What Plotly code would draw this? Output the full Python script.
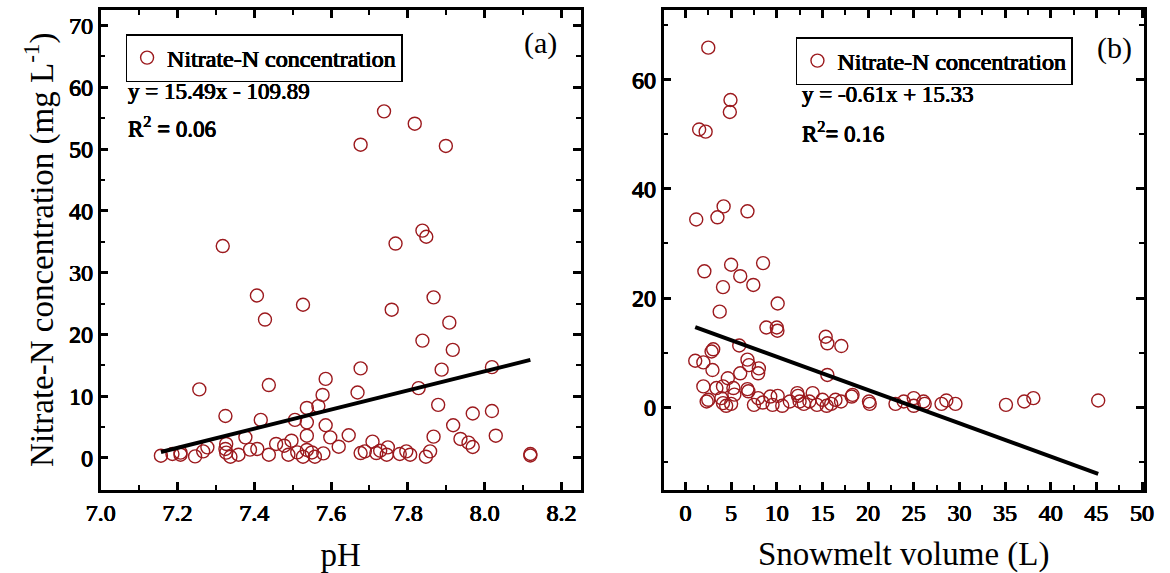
import plotly.graph_objects as go

# Panel (a): pH vs nitrate-N
ph = [7.157, 7.187, 7.208, 7.208, 7.246, 7.257, 7.267, 7.278, 7.318, 7.325,
      7.327, 7.325, 7.327, 7.338, 7.359, 7.377, 7.389, 7.407, 7.408, 7.417,
      7.428, 7.438, 7.438, 7.457, 7.478, 7.489, 7.497, 7.506, 7.512, 7.527,
      7.527, 7.537, 7.537, 7.537, 7.537, 7.550, 7.558, 7.567, 7.578, 7.586,
      7.586, 7.580, 7.598, 7.620, 7.646, 7.669, 7.677, 7.677, 7.677, 7.688,
      7.708, 7.718, 7.728, 7.738, 7.745, 7.748, 7.758, 7.768, 7.779, 7.796,
      7.806, 7.818, 7.828, 7.838, 7.838, 7.847, 7.848, 7.858, 7.867, 7.867,
      7.879, 7.888, 7.899, 7.908, 7.917, 7.918, 7.937, 7.958, 7.969, 7.969,
      8.019, 8.019, 8.029, 8.119, 8.119]
nitrate_a = [0.37, 0.65, 0.53, 0.86, 0.26, 11.1, 1.07, 1.72, 34.3, 6.8,
             2.27, 1.46, 0.86, 0.20, 0.53, 3.34, 1.35, 26.3, 1.46, 6.16,
             22.4, 11.8, 0.53, 2.27, 1.99, 0.53, 2.8, 6.16, 0.91, 0.21,
             24.8, 8.1, 5.77, 3.61, 1.3, 0.9, 0.21, 8.4, 10.2, 12.8,
             5.3, 0.75, 3.34, 1.83, 3.68, 10.6, 50.7, 14.5, 0.8, 1.07,
             2.64, 0.8, 1.18, 56.1, 0.53, 1.72, 24.0, 34.7, 0.65, 1.07,
             0.53, 54.1, 11.3, 36.8, 19.0, 0.21, 35.8, 1.07, 26.0, 3.45,
             8.6, 14.3, 50.5, 21.9, 17.5, 5.3, 3.08, 2.48, 7.2, 1.78,
             14.7, 7.6, 3.61, 0.65, 0.4]

# Panel (b): snowmelt volume vs nitrate-N
snow = [2.50, 4.93, 4.86, 1.50, 2.21, 1.18, 3.50, 4.18, 6.79, 2.07,
        5.00, 6.00, 8.50, 4.11, 7.43, 10.1, 3.75, 8.86, 10.0, 10.07,
        15.36, 15.54, 17.07, 5.89, 3.04, 2.86, 1.07, 1.96, 6.79, 6.96,
        8.04, 7.96, 6.00, 2.96, 4.64, 15.54, 1.96, 3.39, 4.11, 5.25,
        5.36, 6.79, 6.89, 2.50, 2.32, 3.93, 4.11, 4.46, 5.00, 7.50,
        7.96, 8.46, 9.29, 9.54, 10.1, 10.6, 11.43, 12.25, 12.32, 12.5,
        12.96, 13.57, 13.93, 14.4, 15.0, 15.46, 15.96, 16.43, 17.04, 18.2,
        18.3, 20.1, 20.18, 23.0, 23.9, 25.0, 25.0, 26.07, 26.2, 28.04,
        28.57, 29.57, 35.1, 37.1, 38.1, 45.2]
nitrate_b = [65.9, 56.3, 54.1, 50.9, 50.5, 34.4, 34.8, 36.8, 35.9, 24.9,
             26.1, 24.0, 26.4, 22.0, 22.4, 19.0, 17.5, 14.6, 14.6, 14.0,
             12.9, 11.7, 11.2, 11.3, 10.6, 10.2, 8.5, 8.2, 8.7, 7.7,
             7.1, 6.2, 6.2, 6.8, 5.3, 5.9, 3.8, 3.5, 3.8, 3.5,
             2.3, 3.3, 2.9, 1.34, 1.03, 1.65, 0.73, 0.24, 0.6, 0.42,
             1.65, 0.84, 1.94, 0.42, 2.07, 0.24, 1.03, 2.56, 2.07, 1.03,
             0.6, 1.03, 2.56, 0.42, 1.34, 0.24, 0.6, 1.34, 1.03, 1.94,
             2.25, 1.03, 0.6, 0.6, 1.03, 1.65, 0.24, 1.03, 0.6, 0.6,
             1.22, 0.6, 0.42, 1.03, 1.65, 1.22]

# Linear fits as stated in the annotations
slope_a, intercept_a = 15.49, -109.89
slope_b, intercept_b = -0.61, 15.33
eq_a = "y = 15.49x - 109.89"
eq_b = "y = -0.61x + 15.33"
r2_a = "0.06"
r2_b = "0.16"

series_name = "Nitrate-N concentration"
MARKER_COLOR = "#9c1a1e"
SERIF = "Liberation Serif"
# heavier strokes drawn as a thin outline around the serif glyphs
HEAVY = "0.45px 0 0 black, -0.45px 0 0 black, 0 0.35px 0 black, 0 -0.35px 0 black"

fit_ax = [min(ph), max(ph)]
fit_ay = [slope_a * v + intercept_a for v in fit_ax]
fit_bx = [min(snow), max(snow)]
fit_by = [slope_b * v + intercept_b for v in fit_bx]

W, H = 1170, 573
fig = go.Figure()

marker_style = dict(symbol="circle-open", size=13, color=MARKER_COLOR,
                    line=dict(width=1.4, color=MARKER_COLOR))

fig.add_trace(go.Scatter(x=ph, y=nitrate_a, mode="markers", name=series_name,
                         marker=marker_style, xaxis="x", yaxis="y",
                         legend="legend", showlegend=True))
fig.add_trace(go.Scatter(x=fit_ax, y=fit_ay, mode="lines",
                         line=dict(color="black", width=4),
                         xaxis="x", yaxis="y", showlegend=False))
fig.add_trace(go.Scatter(x=snow, y=nitrate_b, mode="markers", name=series_name,
                         marker=marker_style, xaxis="x2", yaxis="y2",
                         legend="legend2", showlegend=True))
fig.add_trace(go.Scatter(x=fit_bx, y=fit_by, mode="lines",
                         line=dict(color="black", width=4),
                         xaxis="x2", yaxis="y2", showlegend=False))

tick_font = dict(family=SERIF, size=24, color="black", shadow=HEAVY)
title_font = dict(family=SERIF, size=33, color="black")
legend_font = dict(family=SERIF, size=24, color="black", shadow=HEAVY)

def axis_common():
    return dict(showline=True, linewidth=2.5, linecolor="black", mirror="allticks",
                ticks="inside", ticklen=8, tickwidth=2.5, tickcolor="black",
                showgrid=False, zeroline=False, tickfont=tick_font)

y_bottom = 1 - 489.5 / H
y_top = 1 - 10 / H

fig.update_layout(
    width=W, height=H,
    margin=dict(l=0, r=0, t=0, b=0),
    plot_bgcolor="white", paper_bgcolor="white",
    xaxis=dict(domain=[87.5 / W, 578 / W], range=[7.0, 8.25], tick0=7.0, dtick=0.2,
               tickformat=".1f",
               minor=dict(ticks="inside", ticklen=5, tickwidth=2, dtick=0.1, tickcolor="black"),
               title=dict(text="pH", font=title_font, standoff=18),
               anchor="y", **axis_common()),
    yaxis=dict(domain=[y_bottom, y_top], range=[-5.1, 72.5], tick0=0, dtick=10,
               minor=dict(ticks="inside", ticklen=5, tickwidth=2, dtick=5, tickcolor="black"),
               title=dict(text="Nitrate-N concentration (mg L<sup>-1</sup>)",
                          font=title_font, standoff=6),
               anchor="x", **axis_common()),
    xaxis2=dict(domain=[662.7 / W, 1153.5 / W], range=[-2.4, 50.2], tick0=0, dtick=5,
                minor=dict(ticks="inside", ticklen=5, tickwidth=2, dtick=2.5, tickcolor="black"),
                title=dict(text="Snowmelt volume (L)", font=title_font, standoff=18),
                anchor="y2", **axis_common()),
    yaxis2=dict(domain=[y_bottom, y_top], range=[-15.1, 72.8], tick0=0, dtick=20,
                minor=dict(ticks="inside", ticklen=5, tickwidth=2, dtick=10, tickcolor="black"),
                anchor="x2", **axis_common()),
    legend=dict(x=113 / W, y=1 - 34 / H, xanchor="left", yanchor="top",
                bordercolor="black", borderwidth=1.5, bgcolor="white",
                font=legend_font, itemwidth=30),
    legend2=dict(x=798 / W, y=1 - 37 / H, xanchor="left", yanchor="top",
                 bordercolor="black", borderwidth=1.5, bgcolor="white",
                 font=legend_font, itemwidth=30),
)

eq_font = dict(family=SERIF, size=23, color="black", shadow=HEAVY)
panel_font = dict(family=SERIF, size=30, color="black")

annotations = [
    dict(x=113 / W, y=1 - 91 / H, text=eq_a),
    dict(x=113 / W, y=1 - 127 / H, text="R<sup>2</sup> = " + r2_a),
    dict(x=802 / W, y=1 - 95 / H, text=eq_b),
    dict(x=802 / W, y=1 - 132 / H, text="R<sup>2</sup>= " + r2_b),
]
for a in annotations:
    fig.add_annotation(xref="paper", yref="paper", xanchor="left", yanchor="middle",
                       showarrow=False, font=eq_font, **a)

fig.add_annotation(x=537 / W, y=1 - 43 / H, xref="paper", yref="paper", text="(a)",
                   showarrow=False, font=panel_font, xanchor="center", yanchor="middle")
fig.add_annotation(x=1124 / W, y=1 - 48 / H, xref="paper", yref="paper", text="(b)",
                   showarrow=False, font=panel_font, xanchor="center", yanchor="middle")

fig.write_html("out.html")
